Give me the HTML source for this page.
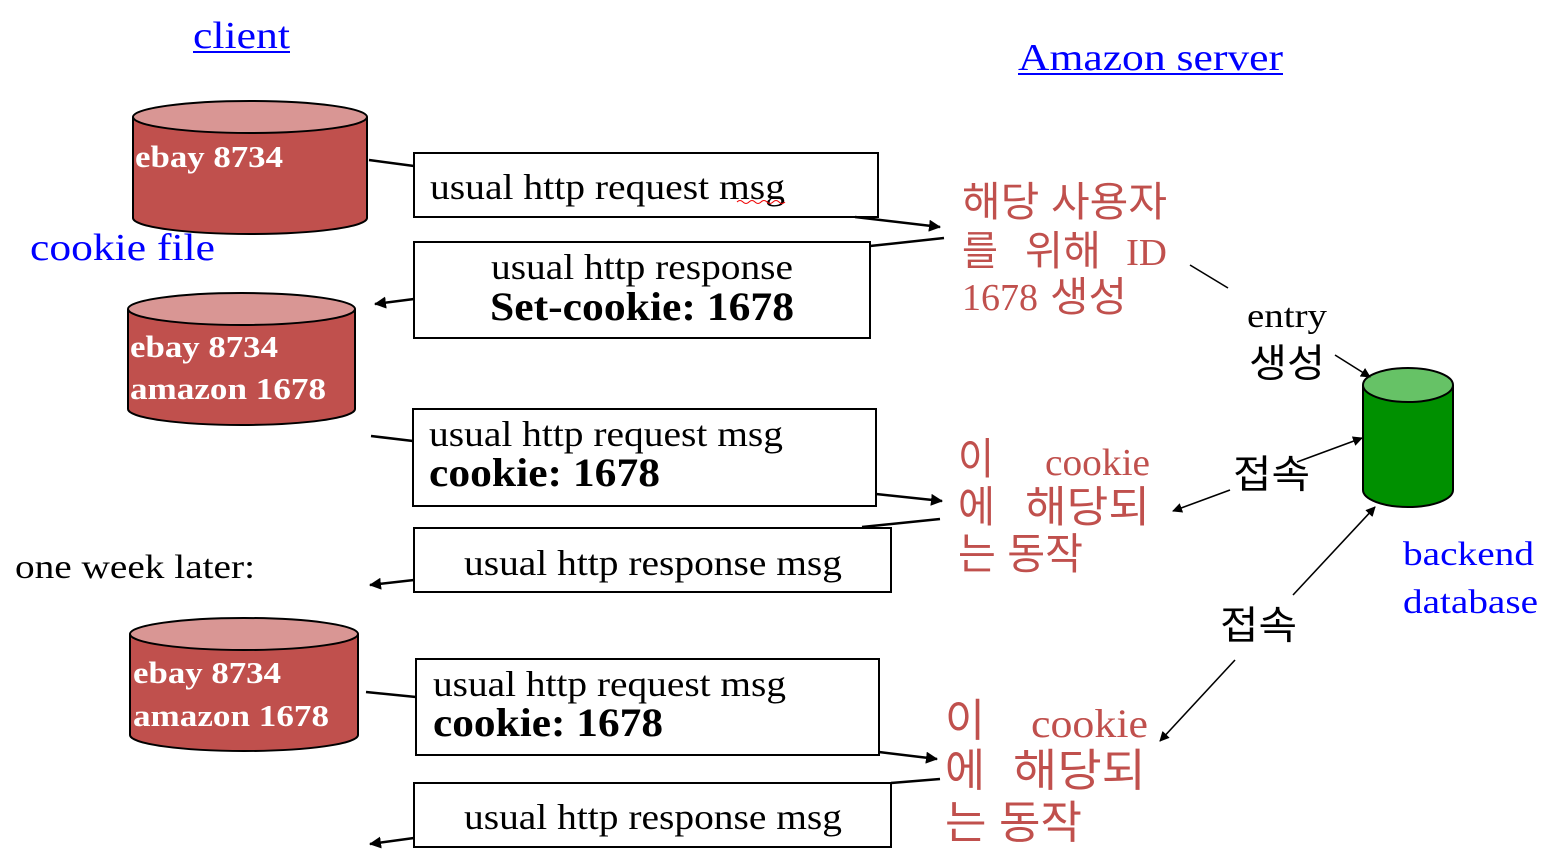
<!DOCTYPE html>
<html><head><meta charset="utf-8"><style>
html,body{margin:0;padding:0;background:#fff;}
svg{display:block;}
.t{font-family:"Liberation Serif","Noto Serif CJK SC",serif;}
.k{font-family:"Liberation Sans","Noto Sans CJK KR",sans-serif;}
</style></head><body>
<svg width="1551" height="862" viewBox="0 0 1551 862" xmlns="http://www.w3.org/2000/svg">
<defs>
<marker id="a" markerWidth="10" markerHeight="10" refX="9" refY="5" orient="auto" markerUnits="userSpaceOnUse"><path d="M0,0 L10,5 L0,10 z" fill="#000"/></marker>
<marker id="b" markerWidth="12" markerHeight="12" refX="11" refY="6" orient="auto" markerUnits="userSpaceOnUse"><path d="M0,0 L12,6 L0,12 z" fill="#000"/></marker>
</defs>

<g stroke="#000" stroke-width="2">
<path d="M133,117 V218 A117,16 0 0 0 367,218 V117" fill="#c0504d"/>
<ellipse cx="250" cy="117" rx="117" ry="16" fill="#d99694"/>
<path d="M128,309 V409 A113.5,16 0 0 0 355,409 V309" fill="#c0504d"/>
<ellipse cx="241.5" cy="309" rx="113.5" ry="16" fill="#d99694"/>
<path d="M130,634 V735 A114,16 0 0 0 358,735 V634" fill="#c0504d"/>
<ellipse cx="244" cy="634" rx="114" ry="16" fill="#d99694"/>
<path d="M1363,385 V490 A45,17 0 0 0 1453,490 V385" fill="#009000"/>
<ellipse cx="1408" cy="385" rx="45" ry="17" fill="#66c266"/>
</g>
<g class="t" fill="#fff" font-weight="bold" font-size="31">
<text x="135" y="167" textLength="148" lengthAdjust="spacingAndGlyphs">ebay 8734</text>
<text x="130" y="357" textLength="148" lengthAdjust="spacingAndGlyphs">ebay 8734</text>
<text x="130" y="399" textLength="196" lengthAdjust="spacingAndGlyphs">amazon 1678</text>
<text x="133" y="683" textLength="148" lengthAdjust="spacingAndGlyphs">ebay 8734</text>
<text x="133" y="726" textLength="196" lengthAdjust="spacingAndGlyphs">amazon 1678</text>
</g>

<g fill="#fff" stroke="#000" stroke-width="2">
<rect x="414" y="153" width="464" height="64"/>
<rect x="414" y="242" width="456" height="96"/>
<rect x="413" y="409" width="463" height="97"/>
<rect x="414" y="528" width="477" height="64"/>
<rect x="416" y="659" width="463" height="96"/>
<rect x="414" y="783" width="477" height="64"/>
</g>
<g class="t" fill="#000" font-size="36">
<text x="430" y="199" textLength="355" lengthAdjust="spacingAndGlyphs">usual http request msg</text>
<text x="491" y="279" textLength="302" lengthAdjust="spacingAndGlyphs">usual http response</text>
<text x="490" y="320" font-weight="bold" font-size="40" textLength="304" lengthAdjust="spacingAndGlyphs">Set-cookie: 1678</text>
<text x="429" y="446" textLength="354" lengthAdjust="spacingAndGlyphs">usual http request msg</text>
<text x="429" y="486" font-weight="bold" font-size="40" textLength="231" lengthAdjust="spacingAndGlyphs">cookie: 1678</text>
<text x="464" y="575" textLength="378" lengthAdjust="spacingAndGlyphs">usual http response msg</text>
<text x="433" y="696" textLength="353" lengthAdjust="spacingAndGlyphs">usual http request msg</text>
<text x="433" y="736" font-weight="bold" font-size="40" textLength="230" lengthAdjust="spacingAndGlyphs">cookie: 1678</text>
<text x="464" y="829" textLength="378" lengthAdjust="spacingAndGlyphs">usual http response msg</text>
</g>
<path d="M737,202 q3,-3 6,0 t6,0 t6,0 t6,0 t6,0 t6,0 t6,0 t6,0" stroke="#e00" stroke-width="1" fill="none"/>

<g stroke="#000" stroke-width="2.5" fill="none">
<line x1="369" y1="160" x2="414" y2="166"/>
<line x1="855" y1="217" x2="940" y2="227" marker-end="url(#b)"/>
<line x1="870" y1="246" x2="944" y2="238"/>
<line x1="414" y1="299" x2="375" y2="304" marker-end="url(#b)"/>
<line x1="371" y1="436" x2="413" y2="441"/>
<line x1="876" y1="494" x2="942" y2="501" marker-end="url(#b)"/>
<line x1="862" y1="527" x2="940" y2="519"/>
<line x1="414" y1="580" x2="370" y2="585" marker-end="url(#b)"/>
<line x1="366" y1="692" x2="416" y2="697"/>
<line x1="879" y1="752" x2="937" y2="759" marker-end="url(#b)"/>
<line x1="891" y1="783" x2="940" y2="779"/>
<line x1="414" y1="838" x2="370" y2="844" marker-end="url(#b)"/>
</g>
<g stroke="#000" stroke-width="1.6" fill="none">
<line x1="1190" y1="265" x2="1228" y2="288"/>
<line x1="1335" y1="355" x2="1370" y2="377" marker-end="url(#a)"/>
<line x1="1297" y1="462" x2="1362" y2="438" marker-end="url(#a)"/>
<line x1="1230" y1="490" x2="1173" y2="511" marker-end="url(#a)"/>
<line x1="1293" y1="595" x2="1375" y2="507" marker-end="url(#a)"/>
<line x1="1235" y1="660" x2="1160" y2="741" marker-end="url(#a)"/>
</g>

<g class="t" fill="#0000ff">
<text x="193" y="48" font-size="38" textLength="97" lengthAdjust="spacingAndGlyphs">client</text>
<line x1="193" y1="52" x2="290" y2="52" stroke="#0000ff" stroke-width="2"/>
<text x="1018" y="70" font-size="38" textLength="265" lengthAdjust="spacingAndGlyphs">Amazon server</text>
<line x1="1018" y1="74" x2="1283" y2="74" stroke="#0000ff" stroke-width="2"/>
<text x="30" y="260" font-size="38" textLength="185" lengthAdjust="spacingAndGlyphs">cookie file</text>
<text x="1403" y="565" font-size="34" textLength="131" lengthAdjust="spacingAndGlyphs">backend</text>
<text x="1403" y="613" font-size="34" textLength="135" lengthAdjust="spacingAndGlyphs">database</text>
</g>
<text class="t" x="15" y="578" font-size="34" textLength="240" lengthAdjust="spacingAndGlyphs">one week later:</text>
<text class="t" x="1247" y="327" font-size="34" textLength="80" lengthAdjust="spacingAndGlyphs">entry</text>
<g class="k" fill="#000" font-size="39">
<text x="1249" y="377" textLength="76" lengthAdjust="spacingAndGlyphs">생성</text>
<text x="1233" y="488" textLength="77" lengthAdjust="spacingAndGlyphs">접속</text>
<text x="1220" y="639" textLength="77" lengthAdjust="spacingAndGlyphs">접속</text>
</g>

<g fill="#c0504d">
<text class="k" x="962" y="216" font-size="41" textLength="205" lengthAdjust="spacingAndGlyphs">해당 사용자</text>
<text class="k" x="962" y="265" font-size="41" textLength="36" lengthAdjust="spacingAndGlyphs">를</text>
<text class="k" x="1025" y="265" font-size="41" textLength="76" lengthAdjust="spacingAndGlyphs">위해</text>
<text class="t" x="1126" y="265" font-size="38" textLength="41" lengthAdjust="spacingAndGlyphs">ID</text>
<text class="t" x="962" y="310" font-size="38" textLength="76" lengthAdjust="spacingAndGlyphs">1678</text>
<text class="k" x="1050" y="311" font-size="41" textLength="77" lengthAdjust="spacingAndGlyphs">생성</text>

<text class="k" x="958" y="474" font-size="43" textLength="36" lengthAdjust="spacingAndGlyphs">이</text>
<text class="t" x="1045" y="475" font-size="38" textLength="105" lengthAdjust="spacingAndGlyphs">cookie</text>
<text class="k" x="958" y="522" font-size="43" textLength="37" lengthAdjust="spacingAndGlyphs">에</text>
<text class="k" x="1025" y="522" font-size="43" textLength="125" lengthAdjust="spacingAndGlyphs">해당되</text>
<text class="k" x="958" y="569" font-size="43" textLength="125" lengthAdjust="spacingAndGlyphs">는 동작</text>

<text class="k" x="945" y="736" font-size="45" textLength="40" lengthAdjust="spacingAndGlyphs">이</text>
<text class="t" x="1031" y="737" font-size="40" textLength="117" lengthAdjust="spacingAndGlyphs">cookie</text>
<text class="k" x="945" y="786" font-size="45" textLength="40" lengthAdjust="spacingAndGlyphs">에</text>
<text class="k" x="1013" y="786" font-size="45" textLength="133" lengthAdjust="spacingAndGlyphs">해당되</text>
<text class="k" x="945" y="838" font-size="45" textLength="137" lengthAdjust="spacingAndGlyphs">는 동작</text>
</g>
</svg>
</body></html>
